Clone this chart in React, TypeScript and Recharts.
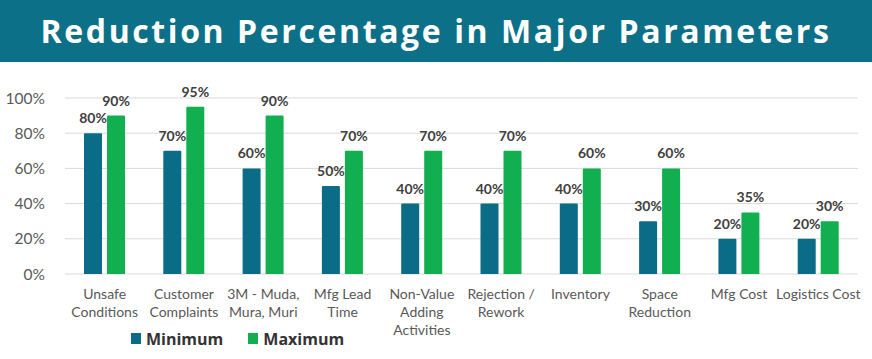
import React from "react";
import {
  Bar,
  BarChart,
  CartesianGrid,
  LabelList,
  Legend,
  XAxis,
  YAxis,
} from "recharts";

const categories = [
  "Unsafe\nConditions",
  "Customer\nComplaints",
  "3M - Muda,\nMura, Muri",
  "Mfg Lead\nTime",
  "Non-Value\nAdding\nActivities",
  "Rejection /\nRework",
  "Inventory",
  "Space\nReduction",
  "Mfg Cost",
  "Logistics Cost",
];
const minimum = [80, 70, 60, 50, 40, 40, 40, 30, 20, 20];
const maximum = [90, 95, 90, 70, 70, 70, 60, 60, 35, 30];
const yTicks = [0, 20, 40, 60, 80, 100];

const TEAL = "#0b6c88";
const GREEN = "#12af50";

const data = categories.map((name, i) => ({
  name,
  Minimum: minimum[i],
  Maximum: maximum[i],
}));

function CategoryTick(props: any) {
  const { x, y, payload } = props;
  const lines = String(payload.value).split("\n");
  return (
    <text
      x={x}
      y={y}
      textAnchor="middle"
      fill="#595959"
      fontSize={14}
      fontFamily="Lato, sans-serif"
    >
      {lines.map((line: string, i: number) => (
        <tspan key={i} x={x} dy={i === 0 ? 17 : 18}>
          {line}
        </tspan>
      ))}
    </text>
  );
}

function LegendBox() {
  const item = (color: string, label: string, ml: number) => (
    <span style={{ display: "inline-flex", alignItems: "center", marginLeft: ml }}>
      <span style={{ width: 10, height: 11, background: color, marginRight: 5 }} />
      <span
        style={{
          fontFamily: "'Open Sans', sans-serif",
          fontWeight: 700,
          fontSize: 16,
          color: "#333",
        }}
      >
        {label}
      </span>
    </span>
  );
  return (
    <div style={{ height: 25, display: "flex", alignItems: "center" }}>
      {item(TEAL, "Minimum", 0)}
      {item(GREEN, "Maximum", 25)}
    </div>
  );
}

const labelStyle = {
  fill: "#404040",
  fontSize: 14,
  fontWeight: 700,
  fontFamily: "Lato, sans-serif",
};

export default function App() {
  return (
    <div
      style={{
        position: "absolute",
        left: 0,
        top: 0,
        width: 872,
        height: 359,
        background: "#fff",
        overflow: "hidden",
      }}
    >
      <div
        style={{
          height: 62,
          background: "#0d7089",
          color: "#fff",
          fontFamily: "'Open Sans', sans-serif",
          fontWeight: 700,
          fontSize: 32,
          letterSpacing: 2.6,
          lineHeight: "62px",
          textAlign: "center",
        }}
      >
        Reduction Percentage in Major Parameters
      </div>
      <BarChart
        width={872}
        height={297}
        data={data}
        margin={{ top: 36, right: 14, left: 0, bottom: 0 }}
        barSize={18}
        barGap={5}
      >
        <CartesianGrid vertical={false} stroke="#d9d9d9" />
        <XAxis
          dataKey="name"
          axisLine={false}
          tickLine={false}
          interval={0}
          height={60}
          tick={<CategoryTick />}
        />
        <YAxis
          width={65}
          domain={[0, 100]}
          ticks={yTicks}
          axisLine={false}
          tickLine={false}
          tickFormatter={(v: number) => `${v}%`}
          tick={{ fill: "#595959", fontSize: 15.5, fontFamily: "Lato, sans-serif" }}
          tickMargin={14}
        />
        <Legend
          verticalAlign="bottom"
          content={<LegendBox />}
          wrapperStyle={{ left: 131, top: 264, bottom: "auto", width: "auto" }}
        />
        <Bar dataKey="Minimum" fill={TEAL} radius={[1, 1, 0, 0]} isAnimationActive={false}>
          <LabelList
            dataKey="Minimum"
            position="top"
            offset={10}
            formatter={(v: any) => `${v}%`}
            style={labelStyle}
          />
        </Bar>
        <Bar dataKey="Maximum" fill={GREEN} radius={[1, 1, 0, 0]} isAnimationActive={false}>
          <LabelList
            dataKey="Maximum"
            position="top"
            offset={10}
            formatter={(v: any) => `${v}%`}
            style={labelStyle}
          />
        </Bar>
      </BarChart>
    </div>
  );
}
